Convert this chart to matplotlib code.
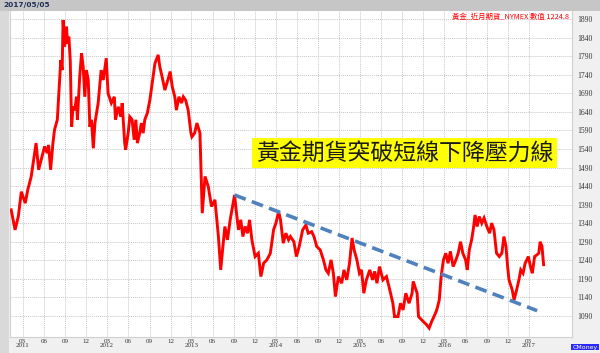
import numpy as np
import pandas as pd
import matplotlib
matplotlib.use("Agg")
import matplotlib.pyplot as plt
import matplotlib.dates as mdates
from matplotlib.patches import Rectangle

# gold front-month futures (NYMEX)
dates = [
    "2011-01-10", "2011-01-27", "2011-02-10", "2011-02-23", "2011-03-12", "2011-03-23",
    "2011-04-07", "2011-04-28", "2011-05-09", "2011-05-20", "2011-06-04", "2011-06-15",
    "2011-06-21", "2011-06-30", "2011-07-10", "2011-07-17", "2011-07-29", "2011-08-09",
    "2011-08-13", "2011-08-19", "2011-08-23", "2011-08-30", "2011-09-07", "2011-09-11",
    "2011-09-17", "2011-09-23", "2011-09-29", "2011-10-05", "2011-10-13", "2011-10-20",
    "2011-10-24", "2011-11-03", "2011-11-11", "2011-11-18", "2011-11-25", "2011-12-02",
    "2011-12-10", "2011-12-17", "2011-12-24", "2012-01-01",
    "2012-01-08", "2012-01-22", "2012-02-04", "2012-02-13", "2012-02-26", "2012-03-05",
    "2012-03-19", "2012-04-01", "2012-04-06", "2012-04-18", "2012-04-29", "2012-05-05",
    "2012-05-16", "2012-05-20", "2012-05-31", "2012-06-07", "2012-06-17", "2012-06-26",
    "2012-07-03", "2012-07-10", "2012-07-20", "2012-07-27", "2012-08-04", "2012-08-11",
    "2012-08-22", "2012-09-02", "2012-09-12", "2012-09-24", "2012-10-08", "2012-10-15",
    "2012-10-25", "2012-11-06", "2012-11-17", "2012-11-29", "2012-12-08", "2012-12-19",
    "2012-12-26",
    "2013-01-06", "2013-01-17", "2013-01-25", "2013-02-04", "2013-02-15", "2013-02-27",
    "2013-03-03", "2013-03-15", "2013-03-25", "2013-04-07", "2013-04-17", "2013-04-29",
    "2013-05-13", "2013-05-27", "2013-06-11", "2013-06-26", "2013-07-06", "2013-07-14",
    "2013-07-24", "2013-08-04", "2013-08-16", "2013-08-26", "2013-09-04", "2013-09-14",
    "2013-09-21", "2013-10-01", "2013-10-10", "2013-10-20", "2013-10-30", "2013-11-08",
    "2013-11-18", "2013-12-02", "2013-12-16", "2013-12-27",
    "2014-01-08", "2014-01-22", "2014-02-06", "2014-02-20", "2014-03-02", "2014-03-14",
    "2014-03-22", "2014-04-03", "2014-04-14", "2014-04-26", "2014-05-04", "2014-05-19",
    "2014-05-30", "2014-06-11", "2014-06-26", "2014-07-10", "2014-07-20", "2014-08-04",
    "2014-08-14", "2014-08-26", "2014-09-10", "2014-09-24", "2014-10-05", "2014-10-15",
    "2014-10-27", "2014-11-06", "2014-11-15", "2014-11-28", "2014-12-12", "2014-12-22",
    "2015-01-03", "2015-01-15", "2015-01-26", "2015-02-04", "2015-02-16", "2015-02-27",
    "2015-03-08", "2015-03-18", "2015-03-29", "2015-04-13", "2015-04-25", "2015-05-04",
    "2015-05-14", "2015-05-25", "2015-06-09", "2015-06-24", "2015-07-05", "2015-07-22",
    "2015-07-29", "2015-08-13", "2015-08-24", "2015-09-04", "2015-09-16", "2015-09-30",
    "2015-10-13", "2015-10-18", "2015-11-04", "2015-11-10", "2015-11-30", "2015-12-15",
    "2015-12-26",
    "2016-01-06", "2016-01-16", "2016-01-28", "2016-02-08", "2016-02-16", "2016-02-26",
    "2016-03-07", "2016-03-17", "2016-03-27", "2016-04-08", "2016-04-20", "2016-04-30",
    "2016-05-10", "2016-05-20", "2016-06-01", "2016-06-08", "2016-06-17", "2016-06-27",
    "2016-07-04", "2016-07-12", "2016-07-21", "2016-07-30", "2016-08-10", "2016-08-20",
    "2016-09-01", "2016-09-13", "2016-09-22", "2016-10-02", "2016-10-13", "2016-10-25",
    "2016-11-05", "2016-11-14", "2016-11-23", "2016-11-30", "2016-12-06", "2016-12-20",
    "2016-12-28",
    "2017-01-08", "2017-01-18", "2017-01-26", "2017-02-05", "2017-02-14", "2017-02-28",
    "2017-03-09", "2017-03-17", "2017-03-27", "2017-04-07", "2017-04-14", "2017-04-20",
    "2017-04-28", "2017-05-05",
]
prices = [
    1376, 1322, 1358, 1425, 1394, 1430,
    1466, 1556, 1484, 1511, 1547, 1529,
    1551, 1484, 1556, 1592, 1619, 1735,
    1780, 1753, 1888, 1816, 1870, 1825,
    1843, 1780, 1600, 1654, 1645, 1681,
    1619, 1735, 1798, 1762, 1681, 1753,
    1726, 1600, 1619, 1542,
    1610, 1664, 1753, 1726, 1785, 1690,
    1664, 1681, 1619, 1654, 1627, 1664,
    1556, 1538, 1583, 1627, 1619, 1565,
    1619, 1556, 1583, 1610, 1583, 1619,
    1637, 1672, 1717, 1771, 1794, 1762,
    1735, 1699, 1722, 1749, 1708, 1681,
    1645,
    1681, 1664, 1681, 1672, 1645, 1583,
    1573, 1583, 1610, 1583, 1367, 1466,
    1439, 1385, 1403, 1304, 1214, 1268,
    1331, 1295, 1349, 1385, 1416, 1358,
    1322, 1349, 1304, 1331, 1313, 1349,
    1295, 1250, 1259, 1196,
    1232, 1241, 1259, 1322, 1340, 1371,
    1349, 1286, 1313, 1295, 1304, 1290,
    1250, 1277, 1322, 1335, 1313, 1317,
    1304, 1277, 1268, 1241, 1214, 1205,
    1241, 1205, 1142, 1196, 1178, 1214,
    1187, 1232, 1300, 1268, 1241, 1205,
    1214, 1151, 1187, 1214, 1187, 1210,
    1178, 1223, 1187, 1196, 1169, 1124,
    1088, 1088, 1124, 1106, 1151, 1124,
    1151, 1183, 1151, 1088, 1075, 1066,
    1057,
    1075, 1088, 1106, 1133, 1196, 1241,
    1259, 1232, 1264, 1223, 1241, 1259,
    1290, 1259, 1241, 1214, 1268, 1295,
    1322, 1362, 1331, 1358, 1340, 1354,
    1331, 1313, 1340, 1322, 1259, 1250,
    1259, 1304, 1277, 1223, 1187, 1160,
    1133,
    1160, 1187, 1214, 1205, 1232, 1250,
    1223, 1205, 1250, 1255, 1259, 1290,
    1277, 1228,
]

# short-term falling resistance line
trend_dates = ["2013-09-04", "2017-04-07"]
trend_values = [1416, 1104]

ytick_values = list(range(1090, 1891, 50))
tick_dates = pd.date_range("2011-03-01", "2017-03-01", freq="3MS")
tick_labels = [f"{d.month:02d}\n{d.year}" if d.month == 3 else f"{d.month:02d}" for d in tick_dates]

title_text = "黃金期貨突破短線下降壓力線"
legend_text = "黃金_近月期貨_NYMEX 數值 1224.8"
date_text = "2017/05/05"

W, H = 600, 353
fig = plt.figure(figsize=(W / 100, H / 100), dpi=100, facecolor="#f0f0f0")

# frame decorations (figure pixel coords)
fig.patches.append(Rectangle((0, 1 - 11 / H), 1, 11 / H, transform=fig.transFigure,
                             facecolor="#c6c6c6", edgecolor="none", zorder=0))
fig.patches.append(Rectangle((0, 0), 9 / W, 1 - 11 / H, transform=fig.transFigure,
                             facecolor="#d9d9d9", edgecolor="none", zorder=0))

ax = fig.add_axes([10 / W, 16 / H, 562 / W, 327 / H])
ax.set_facecolor("white")

x = pd.to_datetime(dates)
ax.plot(x, prices, color="#ff0000", linewidth=2.1, solid_joinstyle="miter", zorder=3)
ax.plot(pd.to_datetime(trend_dates), trend_values, color="#4f81bd", linewidth=2.6,
        linestyle=(0, (3.3, 1.8)), zorder=4)

ax.set_xlim(pd.Timestamp("2011-01-05"), pd.Timestamp("2017-09-05"))
ax.set_ylim(1033, 1915)

ax.set_xticks(tick_dates)
ax.set_xticklabels(tick_labels, fontsize=5, family="Liberation Serif", color="#333333",
                   linespacing=0.85)
ax.set_yticks(ytick_values)
ax.set_yticklabels([str(v) for v in ytick_values], fontsize=5.5, family="Liberation Serif",
                   color="#333333")
ax.yaxis.tick_right()
ax.tick_params(axis="both", length=0)
ax.tick_params(axis="x", pad=1.5)
ax.tick_params(axis="y", pad=4)
for lab in ax.get_yticklabels():
    lab.set_horizontalalignment("left")

ax.grid(True, color="#c8c8c8", linestyle=(0, (1, 1)), linewidth=0.7)
ax.set_axisbelow(True)
for s in ax.spines.values():
    s.set_color("#d0d0d0")
    s.set_linewidth(0.8)

ax.text(0.702, 0.563, title_text, transform=ax.transAxes, fontsize=16.5,
        family=["Noto Sans CJK TC", "DejaVu Sans"], color="#1a1a1a", ha="center", va="center",
        bbox=dict(boxstyle="square,pad=0.15", facecolor="#ffff00", edgecolor="none"), zorder=5)

fig.text(569 / W, 1 - 17 / H, legend_text, fontsize=5.3, color="#ff0000",
         family=["Noto Sans CJK TC", "DejaVu Sans"], ha="right", va="center")
fig.text(3 / W, 1 - 5.5 / H, date_text, fontsize=5.3, color="#1f2f5a", fontweight="bold",
         ha="left", va="center")
fig.text(585 / W, 1 - 347 / H, "CMoney", fontsize=4.5, color="white", ha="center", va="center",
         bbox=dict(boxstyle="square,pad=0.15", facecolor="#2b2bff", edgecolor="none"))

fig.savefig("out.png", dpi=100, facecolor=fig.get_facecolor())
